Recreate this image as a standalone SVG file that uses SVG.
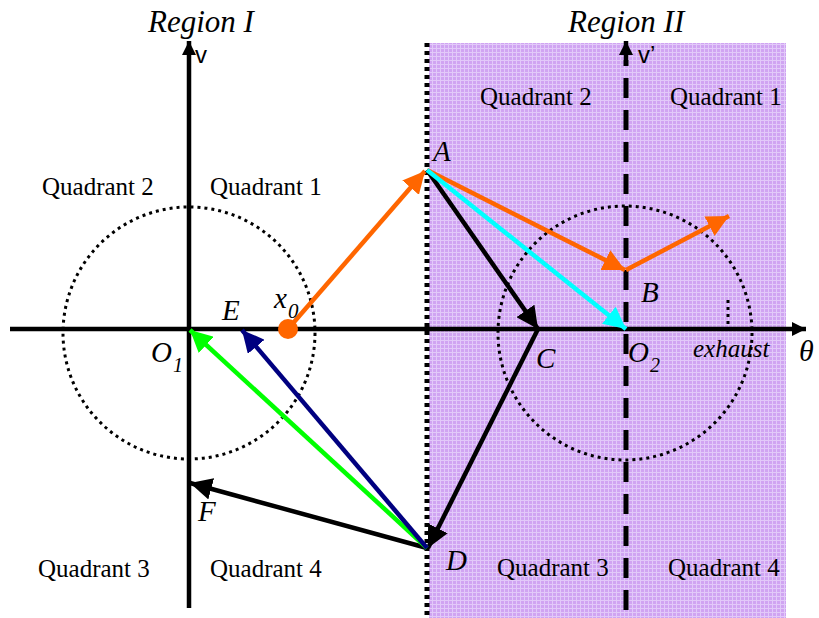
<svg xmlns="http://www.w3.org/2000/svg" width="819" height="618" viewBox="0 0 819 618">
<defs>
<pattern id="grid" width="4" height="4" patternUnits="userSpaceOnUse">
<rect width="4" height="4" fill="#d0a4f2"/>
<path d="M0 0.5H4M0.5 0V4" stroke="#e2c9f9" stroke-width="1"/>
</pattern>
<marker id="mOrange" markerUnits="userSpaceOnUse" markerWidth="24" markerHeight="22" refX="22" refY="11" orient="auto"><path d="M0 0L22 11L0 22Z" fill="#ff6600"/></marker>
<marker id="mBlack" markerUnits="userSpaceOnUse" markerWidth="24" markerHeight="22" refX="22" refY="11" orient="auto"><path d="M0 0L22 11L0 22Z" fill="#000"/></marker>
<marker id="mCyan" markerUnits="userSpaceOnUse" markerWidth="24" markerHeight="22" refX="22" refY="11" orient="auto"><path d="M0 0L22 11L0 22Z" fill="#00ffff"/></marker>
<marker id="mGreen" markerUnits="userSpaceOnUse" markerWidth="24" markerHeight="22" refX="22" refY="11" orient="auto"><path d="M0 0L22 11L0 22Z" fill="#00ff00"/></marker>
<marker id="mNavy" markerUnits="userSpaceOnUse" markerWidth="24" markerHeight="22" refX="22" refY="11" orient="auto"><path d="M0 0L22 11L0 22Z" fill="#000080"/></marker>
<marker id="mAxis" markerUnits="userSpaceOnUse" markerWidth="16" markerHeight="14" refX="14" refY="7" orient="auto"><path d="M0 0L14 7L0 14Z" fill="#000"/></marker>
</defs>
<style>
.q{font-family:"Liberation Serif",serif;font-size:25px;fill:#000}
.it{font-family:"Liberation Serif",serif;font-style:italic;fill:#000}
.lbl{font-size:29px}
.sub{font-size:20px}
.ax{font-family:"Liberation Sans",sans-serif;font-size:24px;fill:#000}
.circ{fill:none;stroke:#000;stroke-width:3;stroke-dasharray:3 4}
.arr{fill:none;stroke-width:4.5}
</style>
<g id="region2-bg"><rect x="429" y="43" width="357" height="575" fill="url(#grid)"/></g>
<g id="circles">
<circle cx="189" cy="333" r="126" class="circ"/>
<circle cx="625" cy="333" r="127" class="circ"/>
<path d="M728 300V326" stroke="#000" stroke-width="3" stroke-dasharray="3 4"/>
</g>
<g id="axes">
<path d="M189 608V41" stroke="#000" stroke-width="4.5" marker-end="url(#mAxis)"/>
<path d="M10 329H806" stroke="#000" stroke-width="4.5" marker-end="url(#mAxis)"/>
<path d="M427 43V618" stroke="#000" stroke-width="5" stroke-dasharray="4 4"/>
<path d="M626 610V60" stroke="#000" stroke-width="5" stroke-dasharray="20 12"/>
<path d="M626 60V41" stroke="#000" stroke-width="4.5" marker-end="url(#mAxis)"/>
</g>
<g id="connectors">
<path d="M288 329L425 171" class="arr" stroke="#ff6600" marker-end="url(#mOrange)"/>
<path d="M427 170L625 270" class="arr" stroke="#ff6600" marker-end="url(#mOrange)"/>
<path d="M626 270L729 216" class="arr" stroke="#ff6600" marker-end="url(#mOrange)"/>
<path d="M427 170L538 329" class="arr" stroke="#000" marker-end="url(#mBlack)"/>
<path d="M427 170L626 329" class="arr" stroke="#00ffff" marker-end="url(#mCyan)"/>
<path d="M538 329L428 548" class="arr" stroke="#000" marker-end="url(#mBlack)"/>
<path d="M427 548L190 483" class="arr" stroke="#000" marker-end="url(#mBlack)"/>
<path d="M427 548L190 330" class="arr" stroke="#00ff00" marker-end="url(#mGreen)"/>
<path d="M427 548L242 330" class="arr" stroke="#000080" marker-end="url(#mNavy)"/>
</g>
<g id="x0"><circle cx="288" cy="329" r="10" fill="#ff6600"/>
<text class="it" x="274" y="308" font-size="29">x</text><text class="it" x="288" y="318" font-size="21">0</text></g>
<g id="labels">
<text class="it" x="148" y="32" font-size="31">Region I</text>
<text class="it" x="568" y="32" font-size="31">Region II</text>
<text class="ax" x="195" y="63">v</text>
<text class="ax" x="638" y="63">v’</text>
<text class="it" x="799" y="361" font-size="30">θ</text>
<text class="q" x="42" y="195">Quadrant 2</text>
<text class="q" x="210" y="195">Quadrant 1</text>
<text class="q" x="480" y="105">Quadrant 2</text>
<text class="q" x="670" y="105">Quadrant 1</text>
<text class="q" x="38" y="577">Quadrant 3</text>
<text class="q" x="210" y="577">Quadrant 4</text>
<text class="q" x="497" y="576">Quadrant 3</text>
<text class="q" x="668" y="576">Quadrant 4</text>
<text class="it" x="693" y="357" font-size="25">exhaust</text>
</g>
<g id="nodeA"><text class="it lbl" x="433" y="161">A</text></g>
<g id="nodeB"><text class="it lbl" x="641" y="302">B</text></g>
<g id="nodeC"><text class="it lbl" x="536" y="368">C</text></g>
<g id="nodeD"><text class="it lbl" x="446" y="570">D</text></g>
<g id="nodeE"><text class="it lbl" x="222" y="320">E</text></g>
<g id="nodeF"><text class="it lbl" x="198" y="521">F</text></g>
<g id="nodeO1"><text class="it lbl" x="151" y="362">O</text><text class="it sub" x="173" y="372">1</text></g>
<g id="nodeO2"><text class="it lbl" x="628" y="362">O</text><text class="it sub" x="650" y="372">2</text></g>
</svg>
